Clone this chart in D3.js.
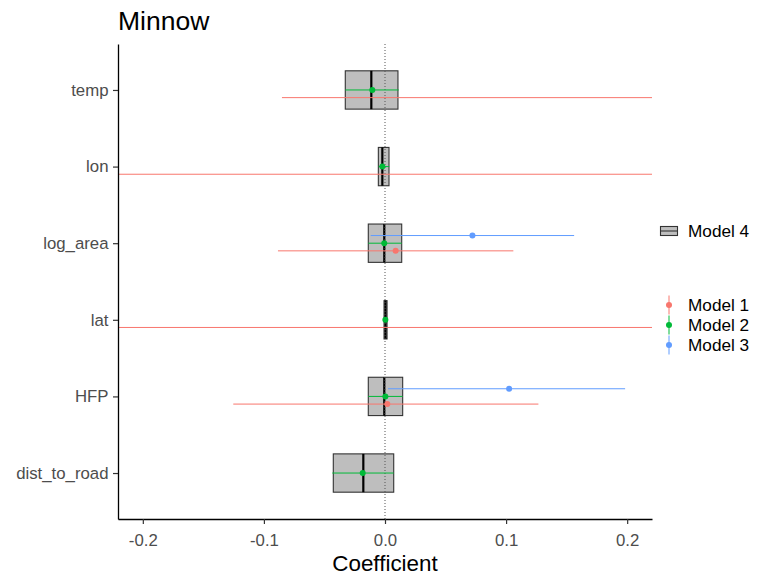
<!DOCTYPE html>
<html>
<head>
<meta charset="utf-8">
<script src="https://cdn.jsdelivr.net/npm/d3@7"></script>
<style>
  html, body { margin: 0; padding: 0; background: #fff; }
  svg { display: block; }
</style>
</head>
<body>
<svg id="chart" width="781" height="576"></svg>
<script>
// Coefficient plot for the Minnow models: Model 4 shown as crossbars,
// Models 1-3 as dodged point ranges.
const variables = ["temp", "lon", "log_area", "lat", "HFP", "dist_to_road"];

// Model 4 crossbar: lower, median, upper
const model4Low  = [-0.0328, -0.0055, -0.0138, -0.0008, -0.0138, -0.0427];
const model4Mid  = [-0.0113, -0.0022, -0.0006,  0.0004, -0.0006, -0.0179];
const model4High = [ 0.0107,  0.0033,  0.0138,  0.0017,  0.0146,  0.0072];

// Model 1 (null = term not in model)
const model1Est  = [ 0.2600,  0.4100,  0.0088, -0.3500,  0.0019, null];
const model1Low  = [-0.0851, -0.2900, -0.0884, -0.9300, -0.1253, null];
const model1High = [ 0.6050,  1.1100,  0.1060,  0.2300,  0.1267, null];

// Model 2
const model2Est  = [-0.0105, -0.0022, -0.0006,  0.0003,  0.0003, -0.0184];
const model2Low  = [-0.0328, -0.0052, -0.0138, -0.0008, -0.0138, -0.0435];
const model2High = [ 0.0113,  0.0035,  0.0138,  0.0017,  0.0146,  0.0072];

// Model 3
const model3Est  = [null, null,  0.0722, null,  0.1025, null];
const model3Low  = [null, null, -0.0118, null,  0.0025, null];
const model3High = [null, null,  0.1562, null,  0.1983, null];

const modelNames = ["Model 1", "Model 2", "Model 3"];
const modelColors = ["#F8766D", "#00BA38", "#619CFF"];
const xTicks = [-0.2, -0.1, 0.0, 0.1, 0.2];

const FONT = "'Liberation Sans', Arial, Helvetica, sans-serif";
const svg = d3.select("#chart");

const panel = { left: 118, right: 652, top: 44, bottom: 519 };

const x = d3.scaleLinear().domain([-0.2205, 0.2205]).range([panel.left, panel.right]);
const y = d3.scalePoint().domain(variables).range([panel.top, panel.bottom]).padding(0.6);
const step = y.step();

// dodge offsets: Model 1 lowest, Model 3 highest
const dodge = [0.1 * step, 0, -0.1 * step];

svg.append("defs").append("clipPath").attr("id", "panel-clip")
  .append("rect")
  .attr("x", panel.left).attr("y", panel.top)
  .attr("width", panel.right - panel.left).attr("height", panel.bottom - panel.top);

const plot = svg.append("g").attr("clip-path", "url(#panel-clip)");

// Model 4 crossbars
const boxH = 0.5 * step;
const boxes = plot.append("g");
variables.forEach((v, i) => {
  const cy = y(v);
  boxes.append("rect")
    .attr("x", x(model4Low[i]))
    .attr("y", cy - boxH / 2)
    .attr("width", x(model4High[i]) - x(model4Low[i]))
    .attr("height", boxH)
    .attr("fill", "#BEBEBE")
    .attr("stroke", "#333333")
    .attr("stroke-width", 1.1);
  boxes.append("line")
    .attr("x1", x(model4Mid[i])).attr("x2", x(model4Mid[i]))
    .attr("y1", cy - boxH / 2).attr("y2", cy + boxH / 2)
    .attr("stroke", "#000").attr("stroke-width", 2.2);
});

// zero reference line
plot.append("line")
  .attr("x1", x(0)).attr("x2", x(0))
  .attr("y1", panel.top).attr("y2", panel.bottom)
  .attr("stroke", "#555").attr("stroke-width", 1)
  .attr("stroke-dasharray", "1,2");

// point ranges
const models = [
  { est: model1Est, low: model1Low, high: model1High },
  { est: model2Est, low: model2Low, high: model2High },
  { est: model3Est, low: model3Low, high: model3High }
];
models.forEach((m, k) => {
  const g = plot.append("g");
  variables.forEach((v, i) => {
    if (m.est[i] === null) return;
    const cy = y(v) + dodge[k];
    g.append("line")
      .attr("x1", x(m.low[i])).attr("x2", x(m.high[i]))
      .attr("y1", cy).attr("y2", cy)
      .attr("stroke", modelColors[k]).attr("stroke-width", 1);
    g.append("circle")
      .attr("cx", x(m.est[i])).attr("cy", cy).attr("r", 3)
      .attr("fill", modelColors[k]);
  });
});

// axes
const TICK_FONT = "16.8px";
const xAxis = svg.append("g")
  .attr("transform", `translate(0,${panel.bottom})`)
  .call(d3.axisBottom(x).tickValues(xTicks).tickFormat(d => d.toFixed(1))
    .tickSizeOuter(0).tickSizeInner(5).tickPadding(10));
const yAxis = svg.append("g")
  .attr("transform", `translate(${panel.left},0)`)
  .call(d3.axisLeft(y).tickSizeOuter(0).tickSizeInner(5).tickPadding(4.5));

[xAxis, yAxis].forEach(a => {
  a.select(".domain").attr("stroke", "#000").attr("stroke-width", 1.3);
  a.selectAll(".tick line").attr("stroke", "#333").attr("stroke-width", 1.2);
  a.selectAll(".tick text")
    .attr("fill", "#4D4D4D")
    .style("font-family", FONT)
    .style("font-size", TICK_FONT);
});

// axis title
svg.append("text")
  .attr("x", (panel.left + panel.right) / 2).attr("y", 571)
  .attr("text-anchor", "middle")
  .style("font-family", FONT).style("font-size", "22.4px")
  .attr("fill", "#000")
  .text("Coefficient");

// plot title
svg.append("text")
  .attr("x", panel.left).attr("y", 30)
  .style("font-family", FONT).style("font-size", "26.5px")
  .attr("fill", "#000")
  .text("Minnow");

// legends
const keyX = 669, textX = 688;
const LEGEND_FONT = "17.2px";
const leg4 = svg.append("g");
leg4.append("rect")
  .attr("x", keyX - 8.5).attr("y", 231 - 4.5)
  .attr("width", 17).attr("height", 9)
  .attr("fill", "#BEBEBE").attr("stroke", "#333").attr("stroke-width", 1.1);
leg4.append("line")
  .attr("x1", keyX - 8.5).attr("x2", keyX + 8.5)
  .attr("y1", 231).attr("y2", 231)
  .attr("stroke", "#333").attr("stroke-width", 1.1);
leg4.append("text")
  .attr("x", textX).attr("y", 231).attr("dy", "0.36em")
  .style("font-family", FONT).style("font-size", LEGEND_FONT)
  .text("Model 4");

const legY = [305, 325, 345];
modelNames.forEach((name, k) => {
  const g = svg.append("g");
  g.append("line")
    .attr("x1", keyX).attr("x2", keyX)
    .attr("y1", legY[k] - 9.5).attr("y2", legY[k] + 9.5)
    .attr("stroke", modelColors[k]).attr("stroke-width", 1);
  g.append("circle")
    .attr("cx", keyX).attr("cy", legY[k]).attr("r", 3)
    .attr("fill", modelColors[k]);
  g.append("text")
    .attr("x", textX).attr("y", legY[k]).attr("dy", "0.36em")
    .style("font-family", FONT).style("font-size", LEGEND_FONT)
    .text(name);
});
</script>
</body>
</html>
